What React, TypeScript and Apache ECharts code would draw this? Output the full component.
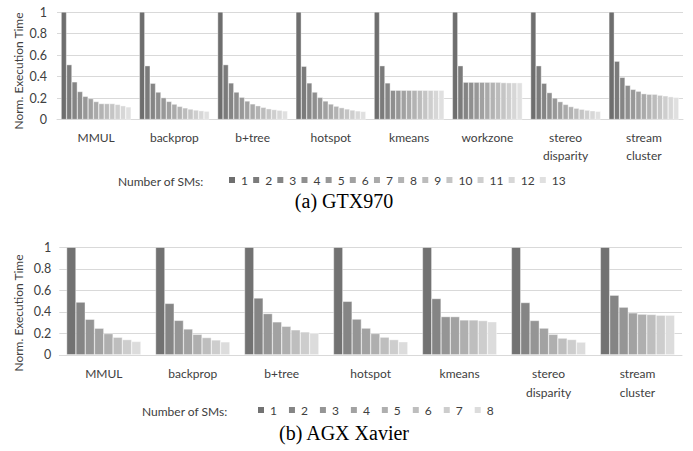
import React, { useEffect, useRef } from "react";
import * as echarts from "echarts";

// ---- Panel (a) GTX970 ----
const gtxCategories = ["MMUL", "backprop", "b+tree", "hotspot", "kmeans", "workzone", "stereo\ndisparity", "stream\ncluster"];
const gtxSMs = ["1", "2", "3", "4", "5", "6", "7", "8", "9", "10", "11", "12", "13"];
const gtxMMUL = [1, 0.51, 0.35, 0.26, 0.215, 0.195, 0.167, 0.148, 0.148, 0.148, 0.14, 0.128, 0.117];
const gtxBackprop = [1, 0.5, 0.337, 0.255, 0.203, 0.168, 0.143, 0.122, 0.108, 0.097, 0.088, 0.082, 0.077];
const gtxBtree = [1, 0.51, 0.34, 0.255, 0.207, 0.172, 0.145, 0.128, 0.113, 0.1, 0.092, 0.086, 0.08];
const gtxHotspot = [1, 0.495, 0.34, 0.255, 0.206, 0.172, 0.144, 0.124, 0.11, 0.098, 0.088, 0.08, 0.075];
const gtxKmeans = [1, 0.5, 0.34, 0.272, 0.272, 0.272, 0.272, 0.272, 0.272, 0.272, 0.272, 0.272, 0.272];
const gtxWorkzone = [1, 0.5, 0.347, 0.347, 0.347, 0.347, 0.347, 0.347, 0.347, 0.343, 0.342, 0.342, 0.342];
const gtxStereo = [1, 0.5, 0.337, 0.25, 0.2, 0.166, 0.14, 0.12, 0.105, 0.095, 0.087, 0.081, 0.076];
const gtxStream = [1, 0.542, 0.392, 0.318, 0.28, 0.263, 0.24, 0.235, 0.235, 0.226, 0.22, 0.212, 0.206];
const gtxValues = [gtxMMUL, gtxBackprop, gtxBtree, gtxHotspot, gtxKmeans, gtxWorkzone, gtxStereo, gtxStream];
const gtxColors = ["#6e6e6e", "#7b7b7b", "#858585", "#8f8f8f", "#989898", "#a1a1a1", "#aaaaaa", "#b3b3b3", "#bcbcbc", "#c5c5c5", "#cecece", "#d7d7d7", "#e0e0e0"];

// ---- Panel (b) AGX Xavier ----
const agxCategories = ["MMUL", "backprop", "b+tree", "hotspot", "kmeans", "stereo\ndisparity", "stream\ncluster"];
const agxSMs = ["1", "2", "3", "4", "5", "6", "7", "8"];
const agxMMUL = [1, 0.49, 0.33, 0.247, 0.197, 0.163, 0.141, 0.124];
const agxBackprop = [1, 0.478, 0.32, 0.24, 0.19, 0.16, 0.138, 0.12];
const agxBtree = [1, 0.528, 0.383, 0.306, 0.265, 0.232, 0.213, 0.2];
const agxHotspot = [1, 0.497, 0.332, 0.248, 0.198, 0.164, 0.141, 0.121];
const agxKmeans = [1, 0.523, 0.355, 0.355, 0.324, 0.324, 0.318, 0.307];
const agxStereo = [1, 0.486, 0.319, 0.248, 0.19, 0.155, 0.142, 0.118];
const agxStream = [1, 0.554, 0.443, 0.39, 0.378, 0.375, 0.368, 0.368];
const agxValues = [agxMMUL, agxBackprop, agxBtree, agxHotspot, agxKmeans, agxStereo, agxStream];
const agxColors = ["#727272", "#858585", "#959595", "#a2a2a2", "#afafaf", "#bebebe", "#cdcdcd", "#dcdcdc"];

const yTicks = [0, 0.2, 0.4, 0.6, 0.8, 1];

const FONT = "Lato";
const TXT = "#404040";
const GRIDC = "#d9d9d9";

export default function App() {
  const ref = useRef<HTMLDivElement>(null);
  useEffect(() => {
    if (!ref.current) return;
    const chart = echarts.init(ref.current, null, { renderer: "svg" });

    const yAxisBase = (gridIndex: number) => ({
      type: "value",
      gridIndex,
      min: yTicks[0],
      max: yTicks[yTicks.length - 1],
      interval: yTicks[1] - yTicks[0],
      axisLine: { show: false },
      axisTick: { show: false },
      splitLine: { lineStyle: { color: GRIDC, width: 1 } },
      axisLabel: { color: TXT, fontFamily: FONT, fontSize: 12.5, margin: gridIndex === 0 ? 10 : 8 },
    });
    const xAxisBase = (gridIndex: number, data: string[], lh: number, margin: number) => ({
      type: "category",
      gridIndex,
      data,
      axisLine: { lineStyle: { color: GRIDC, width: 1 } },
      axisTick: { show: false },
      axisLabel: { color: TXT, fontFamily: FONT, fontSize: 12, lineHeight: lh, margin, interval: 0 },
    });

    const series: any[] = [];
    gtxSMs.forEach((sm, i) => {
      series.push({
        type: "bar",
        name: "a" + sm,
        xAxisIndex: 0,
        yAxisIndex: 0,
        data: gtxValues.map((v) => v[i]),
        barGap: "0%",
        barCategoryGap: "10.6%",
        itemStyle: { color: gtxColors[i], borderColor: "#ffffff", borderWidth: 0.4 },
      });
    });
    agxSMs.forEach((sm, i) => {
      series.push({
        type: "bar",
        name: "b" + sm,
        xAxisIndex: 1,
        yAxisIndex: 1,
        data: agxValues.map((v) => v[i]),
        barGap: "0%",
        barCategoryGap: "16.5%",
        itemStyle: { color: agxColors[i], borderColor: "#ffffff", borderWidth: 0.4 },
      });
    });

    const legendBase = {
      orient: "horizontal",
      itemWidth: 8,
      itemHeight: 8,
      icon: "rect",
      padding: 0,
      formatter: (name: string) => name.slice(1),
      textStyle: { color: TXT, fontFamily: FONT, fontSize: 12 },
    };

    chart.setOption({
      animation: false,
      backgroundColor: "#ffffff",
      grid: [
        { left: 57, right: 10, top: 12, height: 107.5 },
        { left: 59.3, right: 11, top: 247.3, height: 107.5 },
      ],
      xAxis: [xAxisBase(0, gtxCategories, 18, 9), xAxisBase(1, agxCategories, 19, 9.5)],
      yAxis: [yAxisBase(0), yAxisBase(1)],
      legend: [
        { ...legendBase, data: gtxSMs.map((s) => "a" + s), left: 227, top: 174, itemGap: 3.2 },
        { ...legendBase, data: agxSMs.map((s) => "b" + s), left: 256, top: 404, itemGap: 10 },
      ],
      graphic: [
        { type: "text", x: 18, y: 71, rotation: Math.PI / 2, style: { text: "Norm. Execution Time", fill: TXT, font: `12px ${FONT}`, align: "center", verticalAlign: "middle" } },
        { type: "text", x: 18, y: 313, rotation: Math.PI / 2, style: { text: "Norm. Execution Time", fill: TXT, font: `12px ${FONT}`, align: "center", verticalAlign: "middle" } },
        { type: "text", x: 118, y: 181, style: { text: "Number of SMs:", fill: TXT, font: `12px ${FONT}`, align: "left", verticalAlign: "middle" } },
        { type: "text", x: 142, y: 411, style: { text: "Number of SMs:", fill: TXT, font: `12px ${FONT}`, align: "left", verticalAlign: "middle" } },
        { type: "text", x: 344, y: 201, style: { text: "(a) GTX970", fill: "#000000", font: `20px 'Liberation Serif'`, align: "center", verticalAlign: "middle" } },
        { type: "text", x: 344, y: 433, style: { text: "(b) AGX Xavier", fill: "#000000", font: `20px 'Liberation Serif'`, align: "center", verticalAlign: "middle" } },
      ],
      series,
    });
    return () => chart.dispose();
  }, []);
  return (
    <div style={{ position: "fixed", left: 0, top: 0, width: 693, height: 451, background: "#fff" }}>
      <div ref={ref} style={{ width: 693, height: 451 }} />
    </div>
  );
}
